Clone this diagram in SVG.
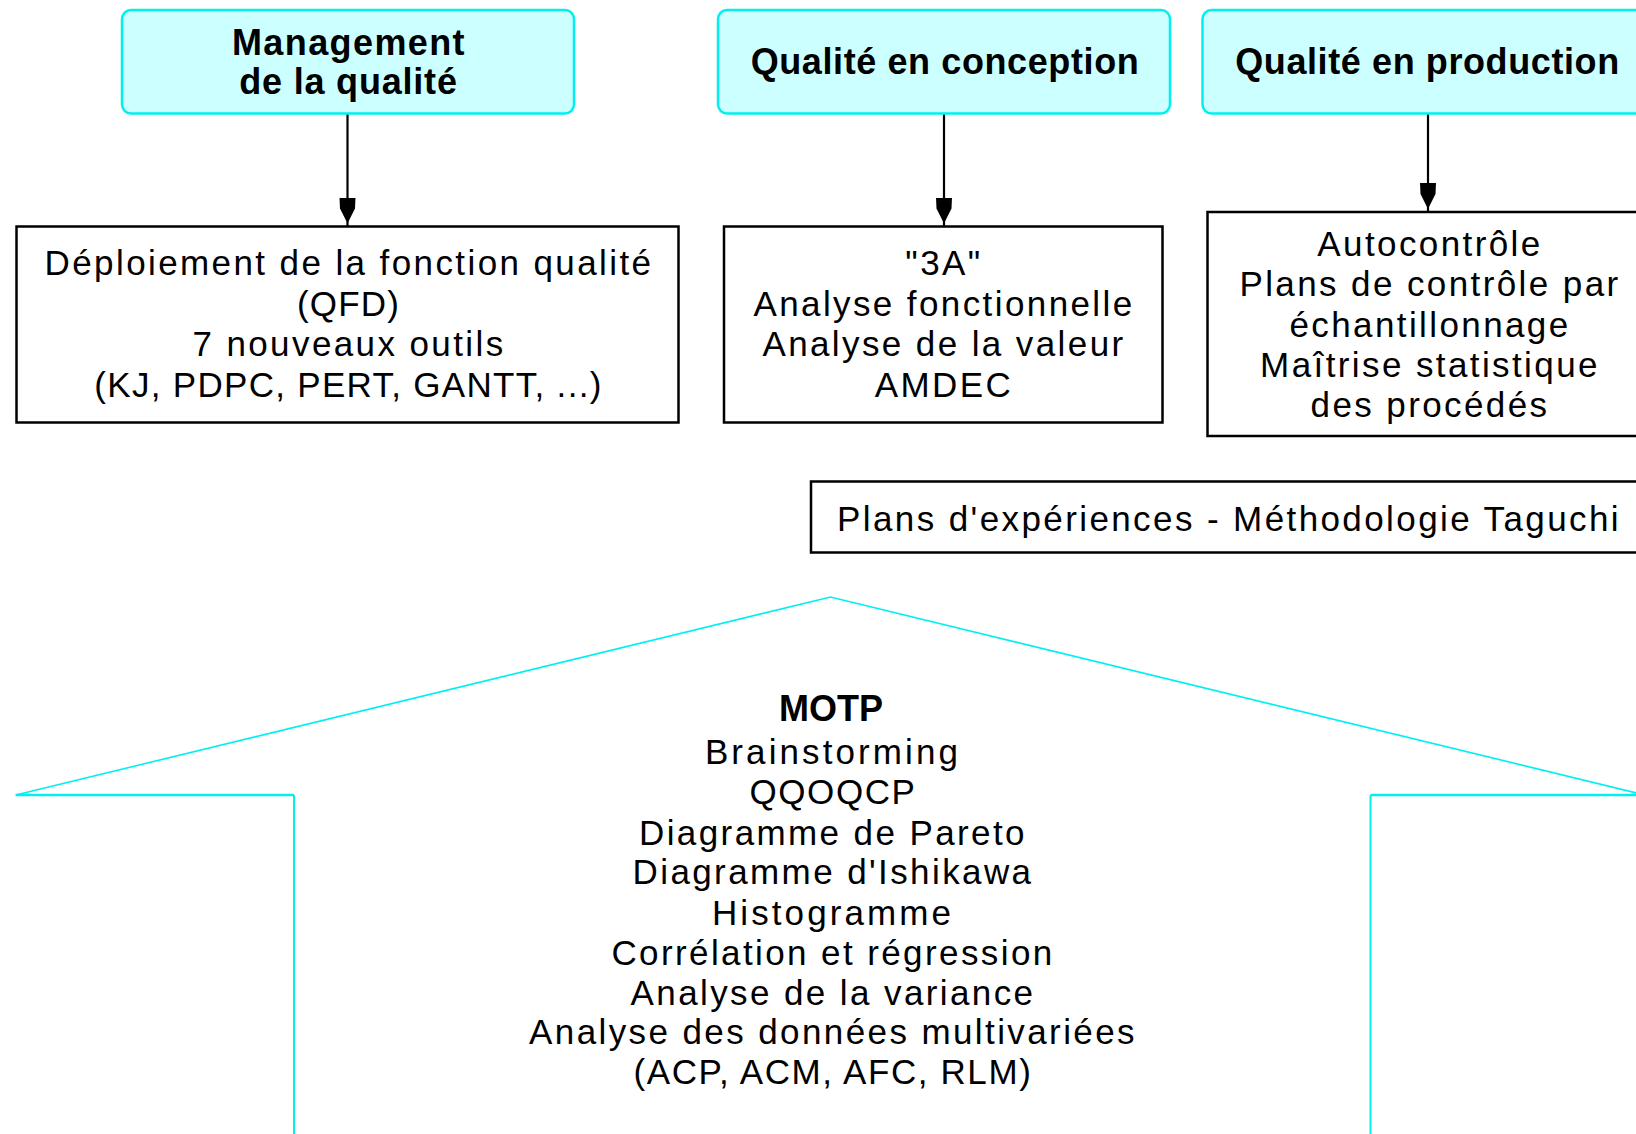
<svg xmlns="http://www.w3.org/2000/svg" width="1636" height="1134" viewBox="0 0 1636 1134">
<style>
.hdr{fill:#CCFFFF;stroke:#00F0F0;stroke-width:2.5}
.box{fill:#FFFFFF;stroke:#000000;stroke-width:2.5}
.t{font-family:"Liberation Sans",Arial,sans-serif;font-size:35px;letter-spacing:2.4px;text-anchor:middle;fill:#000}
.b{font-family:"Liberation Sans",Arial,sans-serif;font-weight:bold;font-size:36px;text-anchor:middle;fill:#000}
.conn{stroke:#000;stroke-width:2.2;fill:none;marker-end:url(#ah)}
.roof{stroke:#00F0F0;stroke-width:1.6;fill:none}
.eave{stroke:#00F0F0;stroke-width:2.6;fill:none}
.wall{stroke:#00F0F0;stroke-width:2;fill:none}
</style>
<defs>
<marker id="ah" markerUnits="userSpaceOnUse" viewBox="0 -9 31 18" markerWidth="31" markerHeight="18" refX="29" refY="0" orient="auto">
<path d="M0,-8 L11,-7.5 L24,-1 L24,1 L11,7.5 L0,8 Z" fill="#000"/>
</marker>
</defs>
<rect x="0" y="0" width="1636" height="1134" fill="#FFFFFF"/>

<g id="connectors">
<line class="conn" x1="347.5" y1="114" x2="347.5" y2="226.5"/>
<line class="conn" x1="944" y1="114" x2="944" y2="226.5"/>
<line class="conn" x1="1428" y1="114" x2="1428" y2="212"/>
</g>

<g id="management">
<rect class="hdr" x="122" y="10" width="452" height="103.5" rx="9"/>
<text class="b" x="349" y="55" style="letter-spacing:1.4px">Management</text>
<text class="b" x="348.5" y="93.5" style="letter-spacing:0.8px">de la qualité</text>
</g>

<g id="conception">
<rect class="hdr" x="718" y="10" width="452" height="103.5" rx="9"/>
<text class="b" x="945" y="74" style="letter-spacing:0.6px">Qualité en conception</text>
</g>

<g id="production">
<rect class="hdr" x="1202.5" y="10" width="470" height="103.5" rx="9"/>
<text class="b" x="1427.5" y="74" style="letter-spacing:0.6px">Qualité en production</text>
</g>

<g id="qfd">
<rect class="box" x="16.5" y="226.5" width="662" height="196"/>
<text class="t" x="349" y="275">Déploiement de la fonction qualité</text>
<text class="t" x="348.5" y="315.5" style="letter-spacing:1.2px">(QFD)</text>
<text class="t" x="349" y="356">7 nouveaux outils</text>
<text class="t" x="348.5" y="396.5" style="letter-spacing:1.3px">(KJ, PDPC, PERT, GANTT, ...)</text>
</g>

<g id="outils-conception">
<rect class="box" x="724" y="226.5" width="438.5" height="196"/>
<text class="t" x="944" y="275">"3A"</text>
<text class="t" x="944" y="315.5">Analyse fonctionnelle</text>
<text class="t" x="944" y="356">Analyse de la valeur</text>
<text class="t" x="944" y="396.5">AMDEC</text>
</g>

<g id="outils-production">
<rect class="box" x="1207.5" y="212" width="480" height="224"/>
<text class="t" x="1430" y="256">Autocontrôle</text>
<text class="t" x="1430" y="296">Plans de contrôle par</text>
<text class="t" x="1430" y="336.5">échantillonnage</text>
<text class="t" x="1430" y="376.5">Maîtrise statistique</text>
<text class="t" x="1430" y="416.5">des procédés</text>
</g>

<g id="plans-experiences">
<rect class="box" x="811" y="481.5" width="900" height="71"/>
<text class="t" x="1229" y="531" style="letter-spacing:2.4px">Plans d'expériences - Méthodologie Taguchi</text>
</g>

<g id="motp">
<polyline class="roof" points="15.7,795 830.5,597 1645,795"/>
<polyline class="eave" points="15.7,795 294,795"/>
<polyline class="wall" points="294,795 294,1136"/>
<polyline class="eave" points="1370.5,795 1645,795"/>
<polyline class="wall" points="1370.5,795 1370.5,1136"/>
<text class="b" x="831" y="721">MOTP</text>
<text class="t" x="833" y="764" style="letter-spacing:3.1px">Brainstorming</text>
<text class="t" x="833" y="803.5" style="letter-spacing:1.6px">QQOQCP</text>
<text class="t" x="833" y="844.5">Diagramme de Pareto</text>
<text class="t" x="833" y="884">Diagramme d'Ishikawa</text>
<text class="t" x="833" y="925" style="letter-spacing:3.1px">Histogramme</text>
<text class="t" x="833" y="965">Corrélation et régression</text>
<text class="t" x="833" y="1005">Analyse de la variance</text>
<text class="t" x="833" y="1044">Analyse des données multivariées</text>
<text class="t" x="833" y="1084" style="letter-spacing:1.6px">(ACP, ACM, AFC, RLM)</text>
</g>
</svg>
